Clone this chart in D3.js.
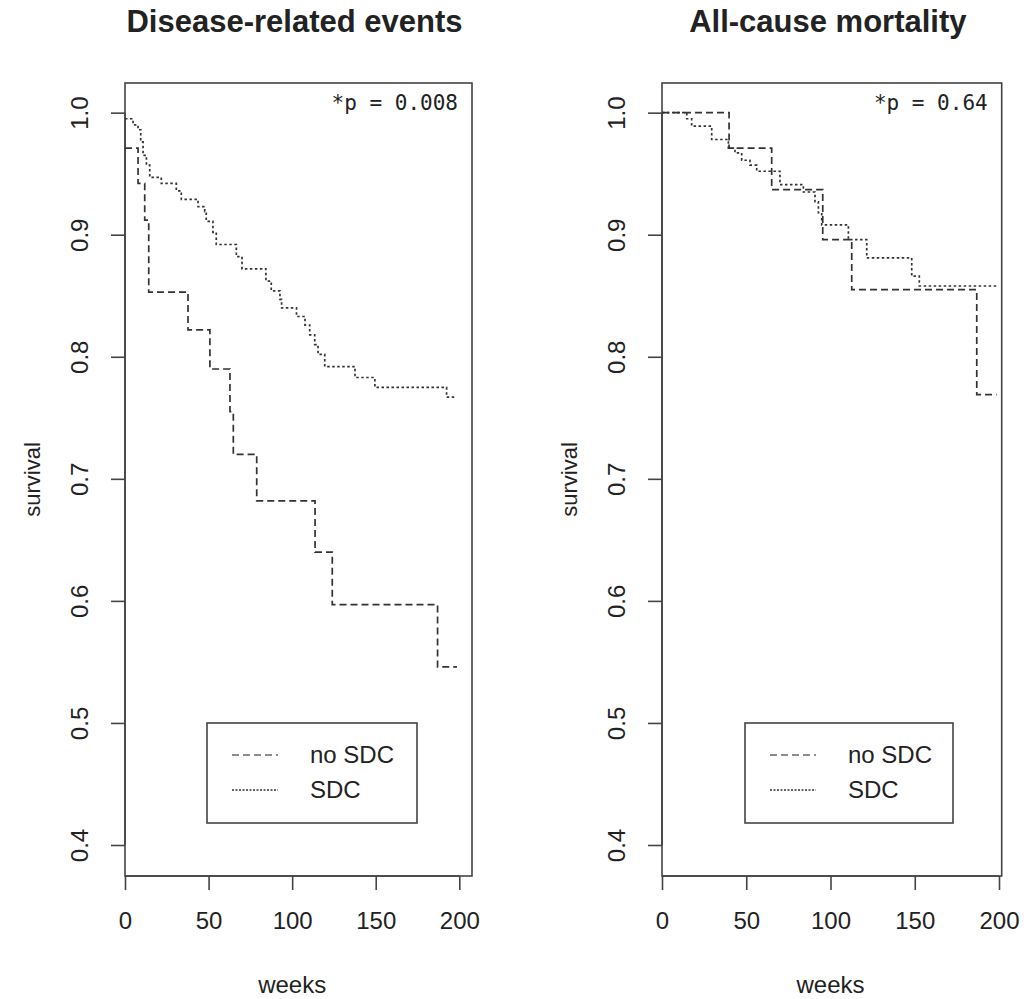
<!DOCTYPE html>
<html lang="en">
<head>
<meta charset="utf-8">
<script src="https://d3js.org/d3.v7.min.js"></script>
<style>
  body { margin: 0; background: #fff; }
  text { font-family: "Liberation Sans", Arial, sans-serif; fill: #222; }
</style>
</head>
<body>
<div id="chart"></div>
<script>

// ---- data (weeks, survival) ----
const yTicks = [0.4, 0.5, 0.6, 0.7, 0.8, 0.9, 1.0];
const xTicks = [0, 50, 100, 150, 200];
const legendLabels = ["no SDC", "SDC"];

// Disease-related events
const diseaseNoSdcTime = [0, 7.8, 11.8, 14.2, 37.7, 50.8, 62.8, 64.8, 78.8, 113.7, 124, 187, 198.6];
const diseaseNoSdcSurv = [0.971, 0.942, 0.912, 0.853, 0.822, 0.790, 0.755, 0.720, 0.682, 0.640, 0.597, 0.546, 0.546];
const diseaseSdcTime = [0, 4.8, 7.8, 9.4, 10.8, 12.8, 14.8, 21.7, 30.7, 33.7, 43.7, 47.7, 48.6, 52.6, 54.6, 66.6, 70,
  84.3, 87.5, 92.7, 93.7, 102.6, 107.7, 110.5, 113.5, 115.5, 119.5, 137.6, 149.5, 192.4, 197.4];
const diseaseSdcSurv = [0.995, 0.990, 0.986, 0.976, 0.965, 0.957, 0.947, 0.942, 0.936, 0.929, 0.923, 0.919, 0.911, 0.902, 0.892, 0.882, 0.872,
  0.862, 0.854, 0.847, 0.840, 0.833, 0.826, 0.818, 0.810, 0.802, 0.792, 0.783, 0.775, 0.767, 0.767];

// All-cause mortality
const mortNoSdcTime = [0, 39.8, 65.1, 95.4, 112.6, 186.8, 198.6];
const mortNoSdcSurv = [1.0, 0.971, 0.937, 0.896, 0.855, 0.769, 0.769];
const mortSdcTime = [0, 14.7, 17.6, 29.5, 39.4, 43.3, 47.3, 52.2, 56.2, 70, 83.9, 90.8, 92.8, 94.8, 110.6, 121.5, 148.2, 152.7, 198.6];
const mortSdcSurv = [1.0, 0.995, 0.989, 0.978, 0.971, 0.967, 0.961, 0.957, 0.952, 0.941, 0.935, 0.927, 0.918, 0.908, 0.896, 0.881, 0.866, 0.858, 0.858];

const zip = (t, s) => t.map((d, i) => ({t: d, s: s[i]}));

const panels = [
  { title: "Disease-related events", p: "*p = 0.008", left: 125, right: 472, xMax: 207.6,
    noSdc: zip(diseaseNoSdcTime, diseaseNoSdcSurv), sdc: zip(diseaseSdcTime, diseaseSdcSurv),
    legend: {x: 207, w: 210} },
  { title: "All-cause mortality", p: "*p = 0.64", left: 662, right: 1001.7, xMax: 201.6,
    noSdc: zip(mortNoSdcTime, mortNoSdcSurv), sdc: zip(mortSdcTime, mortSdcSurv),
    legend: {x: 745, w: 208} }
];

const plotTop = 83, plotBottom = 876;
const axisColor = "#444", lineColor = "#333";
const dashNo = "7,4", dashSdc = "2.5,2.5";

const svg = d3.select("#chart").append("svg")
  .attr("width", 1024)
  .attr("height", 999);

const y = d3.scaleLinear().domain([0.3746, 1.0243]).range([plotBottom, plotTop]);

panels.forEach(function(pn) {
  const x = d3.scaleLinear().domain([0, pn.xMax]).range([pn.left, pn.right]);
  const g = svg.append("g");

  // title
  g.append("text")
    .attr("x", (pn.left + pn.right) / 2 - 4)
    .attr("y", 32)
    .attr("text-anchor", "middle")
    .style("font-weight", "bold")
    .style("font-size", "31px")
    .text(pn.title);

  // box
  g.append("rect")
    .attr("x", pn.left).attr("y", plotTop)
    .attr("width", pn.right - pn.left).attr("height", plotBottom - plotTop)
    .attr("fill", "none").attr("stroke", axisColor).attr("stroke-width", 1.6);

  // x axis
  const xa = g.append("g")
    .attr("transform", `translate(0,${plotBottom})`)
    .call(d3.axisBottom(x).tickValues(xTicks).tickSize(14).tickPadding(22).tickSizeOuter(0));
  xa.select(".domain")
    .attr("d", `M${x(0)},0H${x(200)}`);
  xa.selectAll("line").attr("stroke", axisColor).attr("stroke-width", 1.6);
  xa.selectAll(".domain").attr("stroke", axisColor).attr("stroke-width", 1.6);
  xa.selectAll("text").style("font-size", "24px").style("font-family", "Liberation Sans, Arial, sans-serif").attr("fill", "#222");

  // y axis
  const ya = g.append("g")
    .attr("transform", `translate(${pn.left},0)`)
    .call(d3.axisLeft(y).tickValues(yTicks).tickFormat(d3.format(".1f")).tickSize(14).tickSizeOuter(0));
  ya.select(".domain").attr("d", `M0,${y(0.4)}V${y(1.0)}`);
  ya.selectAll("line").attr("stroke", axisColor).attr("stroke-width", 1.6);
  ya.selectAll(".domain").attr("stroke", axisColor).attr("stroke-width", 1.6);
  ya.selectAll("text")
    .style("font-size", "24px")
    .style("font-family", "Liberation Sans, Arial, sans-serif")
    .attr("fill", "#222")
    .attr("x", null).attr("dy", null)
    .attr("text-anchor", "middle")
    .attr("transform", "translate(-37,0) rotate(-90)");

  // axis labels
  g.append("text")
    .attr("x", (x(0) + x(200)) / 2)
    .attr("y", 993)
    .attr("text-anchor", "middle")
    .style("font-size", "24px")
    .text("weeks");
  g.append("text")
    .attr("transform", `translate(${pn.left - 85},${(plotTop + plotBottom) / 2}) rotate(-90)`)
    .attr("text-anchor", "middle")
    .style("font-size", "22px")
    .text("survival");

  // p value
  g.append("text")
    .attr("x", pn.right - 14)
    .attr("y", 110)
    .attr("text-anchor", "end")
    .style("font-family", "DejaVu Sans Mono, monospace")
    .style("font-size", "21px")
    .text(pn.p);

  // survival curves
  const line = d3.line()
    .x(d => x(d.t))
    .y(d => y(d.s))
    .curve(d3.curveStepAfter);

  g.append("path")
    .datum(pn.noSdc)
    .attr("d", line)
    .attr("fill", "none")
    .attr("stroke", lineColor)
    .attr("stroke-width", 1.7)
    .attr("stroke-dasharray", dashNo);

  g.append("path")
    .datum(pn.sdc)
    .attr("d", line)
    .attr("fill", "none")
    .attr("stroke", lineColor)
    .attr("stroke-width", 1.7)
    .attr("stroke-dasharray", dashSdc);

  // legend
  const lg = g.append("g").attr("transform", `translate(${pn.legend.x},723)`);
  lg.append("rect")
    .attr("width", pn.legend.w).attr("height", 100)
    .attr("fill", "#fff").attr("stroke", axisColor).attr("stroke-width", 1.6);
  legendLabels.forEach(function(lbl, i) {
    lg.append("line")
      .attr("x1", 25).attr("x2", 71)
      .attr("y1", 32 + i * 35).attr("y2", 32 + i * 35)
      .attr("stroke", i === 0 ? "#666" : lineColor)
      .attr("stroke-width", 1.6)
      .attr("stroke-dasharray", i === 0 ? dashNo : "2,1.5");
    lg.append("text")
      .attr("x", 103)
      .attr("y", 40 + i * 35)
      .style("font-size", "24px")
      .text(lbl);
  });
});

</script>
</body>
</html>
